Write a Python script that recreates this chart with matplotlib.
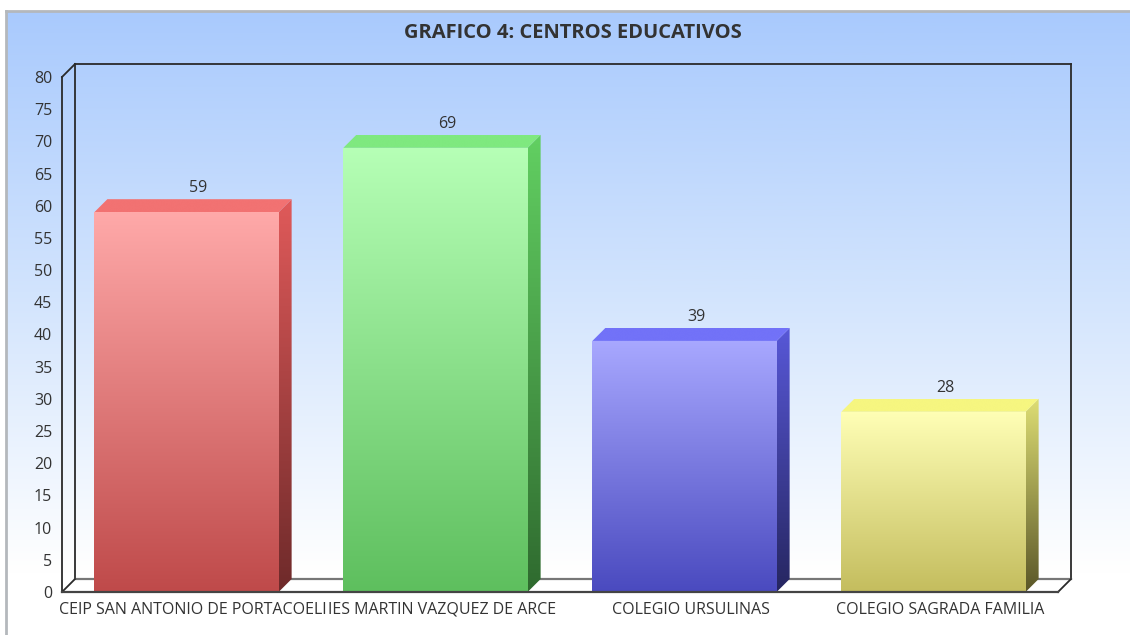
import numpy as np
import matplotlib
matplotlib.use("Agg")
import matplotlib.pyplot as plt
from matplotlib.patches import Polygon
from matplotlib.colors import LinearSegmentedColormap

plt.rcParams['font.family'] = ['Open Sans', 'DejaVu Sans']

# Datos
centros = ['CEIP SAN ANTONIO DE PORTACOELI', 'IES MARTIN VAZQUEZ DE ARCE',
           'COLEGIO URSULINAS', 'COLEGIO SAGRADA FAMILIA']
valores = [59, 69, 39, 28]
titulo = 'GRAFICO 4: CENTROS EDUCATIVOS'
yticks = list(range(0, 81, 5))

# colores: (frontal arriba, frontal abajo, tapa, lateral arriba, lateral abajo)
colores = [
    ('#ffa9a9', '#bf4a4a', '#f27272', '#e05a5a', '#6e2a2a'),
    ('#b6ffb6', '#5ebf5e', '#7fe97f', '#62d062', '#2f6a2f'),
    ('#a8a8ff', '#4a4abf', '#7272f8', '#5858d8', '#262660'),
    ('#ffffb6', '#c4bd5e', '#f6f680', '#dede74', '#5a5628'),
]

W, H = 1130, 635
fig = plt.figure(figsize=(W / 100, H / 100), dpi=100)
fig.patch.set_facecolor('white')

# fondo degradado
bg = fig.add_axes([6 / W, 0, 1 - 6 / W, 1 - 11 / H], zorder=-10)
grad = np.linspace(0, 1, 256).reshape(-1, 1)
cm_bg = LinearSegmentedColormap.from_list(
    'bg', [(0, '#a9cafd'), (0.45, '#d2e4fd'), (0.9, '#ffffff'), (1, '#ffffff')])
bg.imshow(grad, aspect='auto', cmap=cm_bg, extent=[0, 1, 0, 1], origin='upper')
bg.set_xlim(0, 1)
bg.set_ylim(0, 1)
bg.set_xticks([])
bg.set_yticks([])
for s in ['right', 'bottom']:
    bg.spines[s].set_visible(False)
for s in ['top', 'left']:
    bg.spines[s].set_color('#b4b8bc')
    bg.spines[s].set_linewidth(2)

ax = fig.add_axes([62 / W, 1 - 592 / H, (1058 - 62) / W, (592 - 77) / H])
ax.patch.set_alpha(0)
ax.set_xlim(0, 4)
ax.set_ylim(0, 80)
for s in ax.spines.values():
    s.set_visible(False)

DX = 13 / 249.0
DY = 13 / 6.44
ancho = 0.74

# suelo
ax.add_patch(Polygon([(0, 0), (DX, DY), (4 + DX, DY), (4, 0)], closed=True,
                     facecolor='white', edgecolor='none', zorder=1, clip_on=False))

# marco 3D
lc = '#2a2a2a'
kw = dict(color=lc, lw=1.3, clip_on=False, zorder=2)
ax.plot([DX, DX], [DY, 80 + DY], **kw)
ax.plot([DX, 4 + DX], [80 + DY, 80 + DY], **kw)
ax.plot([4 + DX, 4 + DX], [80 + DY, DY], **kw)
ax.plot([DX, 4 + DX], [DY, DY], color='#777777', lw=1.6, clip_on=False, zorder=2)
ax.plot([0, DX], [80, 80 + DY], **kw)
ax.plot([0, 0], [0, 80], **kw)
ax.plot([0, DX], [0, DY], **kw)
ax.plot([4, 4 + DX], [0, DY], **kw)
ax.plot([0, 4], [0, 0], color='#444444', lw=1.6, clip_on=False, zorder=6)


def cara(pts, c_top, c_bot, y0, y1, z):
    poly = Polygon(pts, closed=True, facecolor='none', edgecolor='none', zorder=z, clip_on=False)
    ax.add_patch(poly)
    xs = [p[0] for p in pts]
    cmap = LinearSegmentedColormap.from_list('f', [c_top, c_bot])
    im = ax.imshow(grad, aspect='auto', cmap=cmap, origin='upper',
                   extent=[min(xs), max(xs), y0, y1], zorder=z, interpolation='bilinear')
    im.set_clip_path(poly)


for i, (v, col) in enumerate(zip(valores, colores)):
    c = i + 0.5
    x0, x1 = c - ancho / 2, c + ancho / 2
    # frontal
    cara([(x0, 0), (x1, 0), (x1, v), (x0, v)], col[0], col[1], 0, v, 4)
    # lateral
    cara([(x1, 0), (x1 + DX, DY), (x1 + DX, v + DY), (x1, v)], col[3], col[4], 0, v + DY, 4)
    # tapa
    cara([(x0, v), (x0 + DX, v + DY), (x1 + DX, v + DY), (x1, v)], col[2], col[2], v, v + DY, 4)
    ax.text(c + DX * 0.9, v + DY + 0.5, str(v), ha='center', va='bottom',
            fontsize=11.5, color='#333333', zorder=7)

ax.set_xlim(0, 4)
ax.set_ylim(0, 80)

ax.set_yticks(yticks)
ax.set_yticklabels([str(t) for t in yticks], fontsize=11.5, color='#333333')
ax.set_xticks([i + 0.5 + DX * 0.5 for i in range(len(centros))])
ax.set_xticklabels(centros, fontsize=11.5, color='#333333')
ax.tick_params(axis='y', length=0, pad=7)
ax.tick_params(axis='x', length=0, pad=7)

fig.text(573 / W, 1 - 33 / H, titulo, ha='center', va='center',
         fontsize=14.5, fontweight='bold', color='#333333')

plt.savefig('out.png', dpi=100)
